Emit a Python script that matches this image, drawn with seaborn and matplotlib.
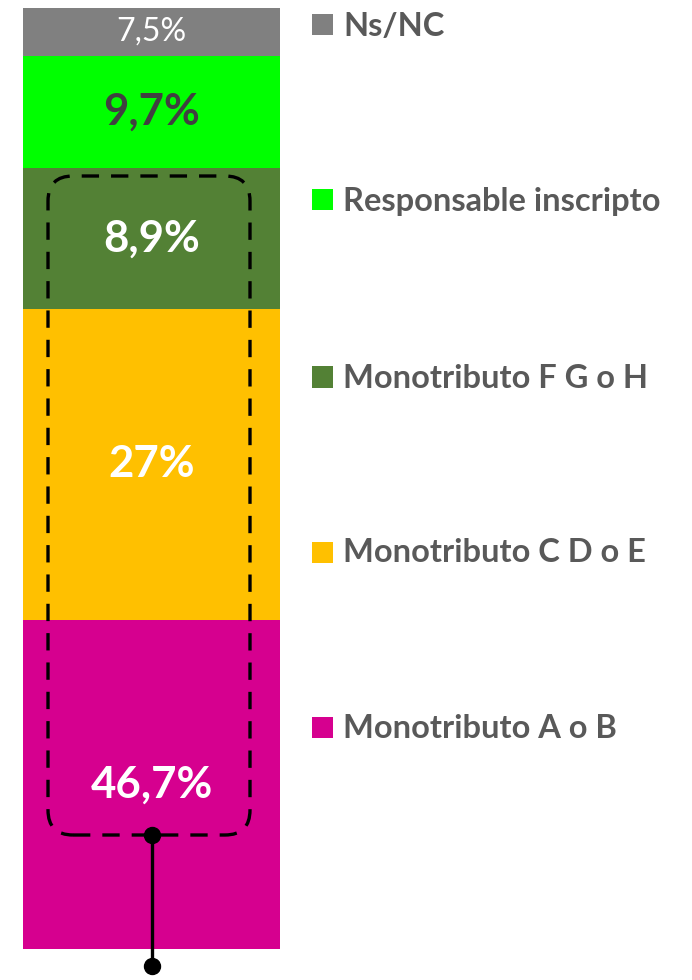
import numpy as np
import pandas as pd
import matplotlib
matplotlib.use("Agg")
import matplotlib.pyplot as plt
from matplotlib.patches import FancyBboxPatch, Rectangle
import seaborn as sns

# Datos (de abajo hacia arriba)
categorias = ["Monotributo A o B", "Monotributo C D o E", "Monotributo F G o H",
              "Responsable inscripto", "Ns/NC"]
etiquetas = ["46,7%", "27%", "8,9%", "9,7%", "7,5%"]
# altura de cada tramo tal como se ve en el grafico (% del alto de la barra)
alto_visual = [35.0, 33.0, 15.0, 11.9, 5.1]
colores = ["#D6008F", "#FFC000", "#538135", "#00FF00", "#808080"]
color_etiqueta = ["white", "white", "white", "#404040", "white"]
peso_etiqueta = ["bold", "bold", "bold", "bold", "normal"]

df = pd.DataFrame({"categoria": categorias, "alto": alto_visual,
                   "etiqueta": etiquetas, "color": colores})
df["base"] = df["alto"].cumsum() - df["alto"]

sns.set_theme(style="white")
plt.rcParams["font.family"] = ["Lato", "DejaVu Sans"]

W, H = 692, 980
fig = plt.figure(figsize=(W / 100, H / 100), dpi=100)

def fx(px):
    return px / W

def fy(py):
    return 1 - py / H

# ejes de la barra apilada
ax = fig.add_axes([fx(23), fy(949), fx(280) - fx(23), fy(8) - fy(949)])
for i, fila in df.iterrows():
    sns.barplot(x=[0], y=[fila["alto"]], bottom=fila["base"], color=fila["color"],
                width=1, saturation=1, ax=ax, linewidth=0)
    ax.text(0, fila["base"] + fila["alto"] / 2, fila["etiqueta"],
            ha="center", va="center", color=color_etiqueta[i],
            fontsize=31.5 if peso_etiqueta[i] == "bold" else 23,
            fontweight=peso_etiqueta[i])
ax.set_xlim(-0.5, 0.5)
ax.set_ylim(0, df["alto"].sum())
ax.axis("off")

# recuadro punteado con esquinas redondeadas (en pulgadas para que sea isotropico)
caja = FancyBboxPatch((0.48 + 0.2, (H - 835) / 100 + 0.2), 2.02 - 0.4, 6.59 - 0.4,
                      boxstyle="round,pad=0.2,rounding_size=0.25",
                      transform=fig.dpi_scale_trans, fill=False,
                      edgecolor="black", linewidth=2.4, linestyle=(0, (5.2, 3.6)))
fig.add_artist(caja)

# conector vertical con puntos
total = df["alto"].sum()
y_px = lambda py: (949 - py) / (949 - 8) * total
ax.plot([0, 0], [y_px(835), y_px(966)], color="black", linewidth=2.4,
        marker="o", markersize=11.5, clip_on=False, zorder=5)

# leyenda manual
leyenda_y = [727, 552, 377, 200, 25]
for cat, col, yy in zip(categorias, colores, leyenda_y):
    fig.add_artist(Rectangle((fx(312), fy(yy + 10.5)), fx(21), fy(yy - 10.5) - fy(yy + 10.5),
                             transform=fig.transFigure, color=col, linewidth=0))
    fig.text(fx(343), fy(yy + 1), cat, ha="left", va="center", color="#595959",
             fontsize=23.5, fontweight="bold")

fig.savefig("out.png", dpi=100)
